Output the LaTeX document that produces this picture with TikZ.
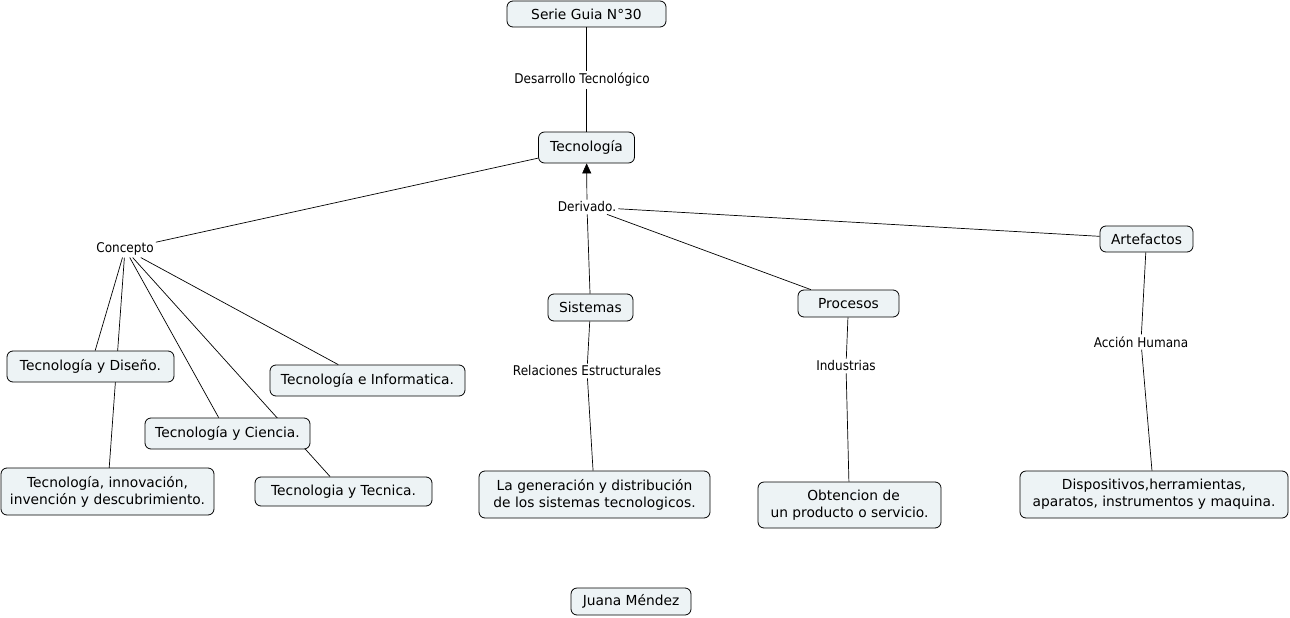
\documentclass[tikz,border=0pt]{standalone}
\usepackage{fontspec}
\setmainfont{DejaVu Sans}
\newfontfamily\lblfont[FakeStretch=0.9]{DejaVu Sans}
\usetikzlibrary{arrows.meta}
\pgfdeclarelayer{background}
\pgfsetlayers{background,main}
\definecolor{boxfill}{RGB}{237,243,245}
\tikzset{
  concept/.style={draw=black, line width=0.8pt, fill=boxfill, rounded corners=6pt,
    align=center, inner sep=0pt, font=\fontsize{13.8}{17}\selectfont},
  linklabel/.style={inner sep=2pt, font=\lblfont\fontsize{13.4}{15}\selectfont},
  conn/.style={draw=black, line width=0.7pt},
  arrowconn/.style={conn, -{Triangle[length=10pt,width=9pt]}},
}
\begin{document}
\begin{tikzpicture}[x=1pt,y=-1pt]
\useasboundingbox (0,0) rectangle (1290,618);
% link labels
\node[linklabel] (desarrollo) at (582,80) {Desarrollo Tecnológico};
\node[linklabel] (derivado) at (587,207) {Derivado.};
\node[linklabel] (concepto) at (125,249) {Concepto};
\node[linklabel] (relaciones) at (587,371) {Relaciones Estructurales};
\node[linklabel] (industrias) at (846,366) {Industrias};
\node[linklabel] (accion) at (1141,342) {Acción Humana};
% concept boxes
\node[concept, minimum width=159pt, minimum height=26pt] (serie) at (586.5,14) {Serie Guia N°30};
\node[concept, minimum width=96pt, minimum height=31pt] (tec) at (586.5,147.5) {Tecnología};
\node[concept, minimum width=93pt, minimum height=26pt] (art) at (1146.5,239) {Artefactos};
\node[concept, minimum width=85pt, minimum height=27pt] (sis) at (590.5,307.5) {Sistemas};
\node[concept, minimum width=101pt, minimum height=27pt] (pro) at (848.5,303.5) {Procesos};
\node[concept, minimum width=167pt, minimum height=31pt] (dis) at (90.5,366.5) {Tecnología y Diseño.};
\node[concept, minimum width=195pt, minimum height=31pt] (inf) at (367.5,380.5) {Tecnología e Informatica.};
\node[concept, minimum width=165pt, minimum height=31pt] (cie) at (227.5,433.5) {Tecnología y Ciencia.};
\node[concept, minimum width=213pt, minimum height=47pt] (inn) at (107.5,491.5) {Tecnología, innovación,\\invención y descubrimiento.};
\node[concept, minimum width=177pt, minimum height=29pt] (tcn) at (343.5,491.5) {Tecnologia y Tecnica.};
\node[concept, minimum width=231pt, minimum height=47pt] (gen) at (594.5,494.5) {La generación y distribución\\de los sistemas tecnologicos.};
\node[concept, minimum width=183pt, minimum height=46pt] (obt) at (849.5,505) {\hspace*{8pt}Obtencion de\\un producto o servicio.};
\node[concept, minimum width=268pt, minimum height=47pt] (dsp) at (1154,494.5) {Dispositivos,herramientas,\\aparatos, instrumentos y maquina.};
\node[concept, minimum width=120pt, minimum height=27pt] (juana) at (631,601.5) {Juana Méndez};
% connectors behind the boxes
\begin{pgfonlayer}{background}
\draw[conn] (serie) -- (serie |- desarrollo.north);
\draw[conn] (serie |- desarrollo.south) -- (tec);
\draw[conn] (tec) -- (concepto);
\draw[arrowconn] (derivado) -- (tec);
\draw[conn] (concepto) -- (dis);
\draw[conn] (concepto) -- (inn.center);
\draw[conn] (concepto) -- (cie);
\draw[conn] (concepto) -- (tcn);
\draw[conn] (concepto) -- (inf);
\draw[conn] (derivado) -- (sis);
\draw[conn] (derivado) -- (pro);
\draw[conn] (derivado) -- (art);
\draw[conn] (sis) -- (relaciones);
\draw[conn] (relaciones) -- (gen);
\draw[conn] (pro) -- (industrias);
\draw[conn] (industrias) -- (obt);
\draw[conn] (art) -- (accion);
\draw[conn] (accion) -- (dsp);
\end{pgfonlayer}
\end{tikzpicture}
\end{document}
